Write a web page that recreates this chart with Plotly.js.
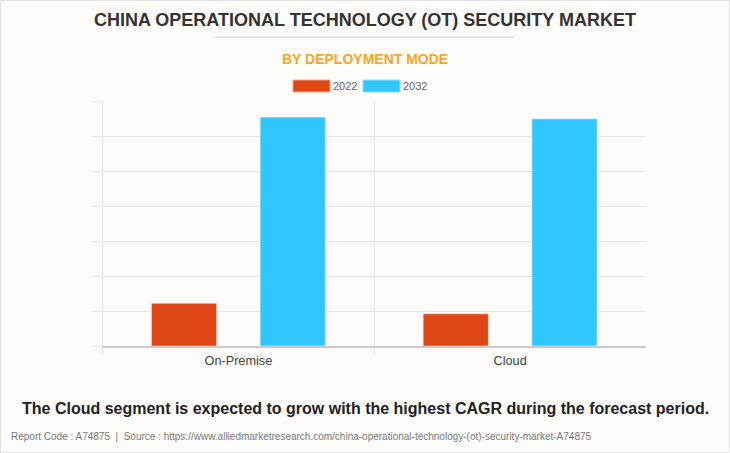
<!DOCTYPE html>
<html>
<head>
<meta charset="utf-8">
<script src="https://cdn.plot.ly/plotly-3.0.1.min.js"></script>
<style>
  html, body { margin: 0; padding: 0; background: #fdfcfb; }
  #wrap { position: relative; width: 730px; height: 453px; }
  #chart { width: 730px; height: 453px; }
  #frame { position: absolute; left: 0; top: 0; width: 730px; height: 453px; box-sizing: border-box; border: 1px solid #e2e2e2; pointer-events: none; }
</style>
</head>
<body>
<div id="wrap"><div id="chart"></div><div id="frame"></div></div>
<script>
const categories = ["On-Premise", "Cloud"];
const seriesNames = ["2022", "2032"];
const values2022 = [1.22, 0.92];
const values2032 = [6.54, 6.49];
const seriesColors = ["#df4816", "#31c6fe"];
const titleText = "CHINA OPERATIONAL TECHNOLOGY (OT) SECURITY MARKET";
const subtitleText = "BY DEPLOYMENT MODE";
const noteText = "The Cloud segment is expected to grow with the highest CAGR during the forecast period.";
const footerText = "Report Code : A74875  |  Source : https://www.alliedmarketresearch.com/china-operational-technology-(ot)-security-market-A74875";

const W = 730, H = 453;
const M = { l: 102, r: 84, t: 101, b: 107 };
const PW = W - M.l - M.r, PH = H - M.t - M.b;
const px = x => (x - M.l) / PW;
const py = y => (H - M.b - y) / PH;

const traces = [
  { type: "bar", name: seriesNames[0], x: categories, y: values2022,
    marker: { color: seriesColors[0], line: { color: "rgba(255,255,255,0.45)", width: 1 } },
    showlegend: false, hoverinfo: "skip" },
  { type: "bar", name: seriesNames[1], x: categories, y: values2032,
    marker: { color: seriesColors[1], line: { color: "rgba(255,255,255,0.45)", width: 1 } },
    showlegend: false, hoverinfo: "skip" }
];

const font = "Liberation Sans, Arial, sans-serif";

const shapes = [
  { type: "line", xref: "paper", yref: "paper", x0: px(215), x1: px(514), y0: py(37), y1: py(37),
    line: { color: "#cfcfcf", width: 1 } },
  { type: "line", xref: "x", yref: "paper", x0: -0.5, x1: -0.5, y0: py(355), y1: 1,
    line: { color: "#e3e3e3", width: 1 }, layer: "below" },
  { type: "line", xref: "x", yref: "paper", x0: 0.5, x1: 0.5, y0: py(355), y1: 1,
    line: { color: "#e3e3e3", width: 1 }, layer: "below" },
  { type: "rect", xref: "paper", yref: "paper", x0: px(293), x1: px(330), y0: py(92), y1: py(80),
    fillcolor: seriesColors[0], line: { color: "#f3a58c", width: 1 } },
  { type: "rect", xref: "paper", yref: "paper", x0: px(363), x1: px(400), y0: py(92), y1: py(80),
    fillcolor: seriesColors[1], line: { color: "#8fdfff", width: 1 } }
];

const annotations = [
  { text: "<b>" + subtitleText + "</b>", xref: "paper", yref: "paper", x: px(365), y: py(59),
    xanchor: "center", yanchor: "middle", showarrow: false,
    font: { family: font, size: 14, color: "#f9a626" } },
  { text: seriesNames[0], xref: "paper", yref: "paper", x: px(331), y: py(86),
    xanchor: "left", yanchor: "middle", showarrow: false,
    font: { family: font, size: 11, color: "#666" } },
  { text: seriesNames[1], xref: "paper", yref: "paper", x: px(401), y: py(86),
    xanchor: "left", yanchor: "middle", showarrow: false,
    font: { family: font, size: 11, color: "#666" } },
  { text: "<b>" + noteText + "</b>", xref: "paper", yref: "paper", x: px(365), y: py(408),
    xanchor: "center", yanchor: "middle", showarrow: false,
    font: { family: font, size: 16, color: "#222" } },
  { text: footerText, xref: "paper", yref: "paper", x: px(9), y: py(436),
    xanchor: "left", yanchor: "middle", showarrow: false,
    font: { family: font, size: 10, color: "#7a7a7a" } }
];

const layout = {
  width: W, height: H,
  margin: M,
  paper_bgcolor: "#fdfcfb",
  plot_bgcolor: "#fdfcfb",
  title: { text: "<b>" + titleText + "</b>", x: 0.5, xref: "container", xanchor: "center",
    y: 1 - 20 / H, yref: "container", yanchor: "middle",
    font: { family: font, size: 18, color: "#333" } },
  barmode: "group",
  bargap: 0.2,
  bargroupgap: 0.4,
  showlegend: false,
  xaxis: {
    type: "category", showgrid: false, zeroline: false,
    showline: true, linecolor: "#cbcbcb", linewidth: 1.5,
    ticks: "", ticklabelstandoff: 2,
    tickfont: { family: font, size: 12.7, color: "#444" }
  },
  yaxis: {
    range: [0, 7], dtick: 1, showgrid: true, gridcolor: "#e6e6e6", gridwidth: 1,
    zeroline: false, showline: false, showticklabels: false,
    ticks: "outside", ticklen: 9, tickcolor: "#e6e6e6", tickwidth: 1
  },
  shapes: shapes,
  annotations: annotations
};

Plotly.newPlot("chart", traces, layout, { displayModeBar: false, staticPlot: true });
</script>
</body>
</html>
